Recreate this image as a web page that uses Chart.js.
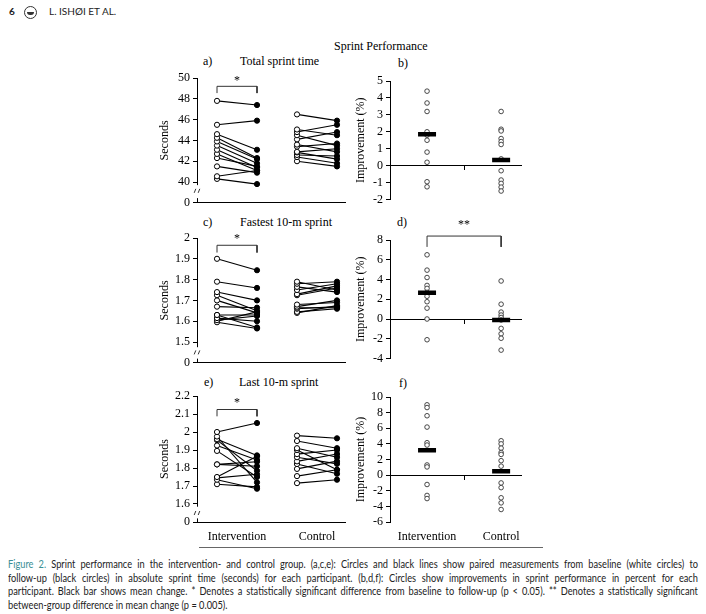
<!DOCTYPE html>
<html>
<head>
<meta charset="utf-8">
<script src="https://cdn.jsdelivr.net/npm/chart.js@4"></script>
<style>
  body { margin: 0; background: #fff; width: 706px; height: 614px; position: relative; overflow: hidden; }
  canvas { position: absolute; }
  .t { position: absolute; font-family: "Liberation Serif", serif; font-size: 12px; color: #000; white-space: nowrap; line-height: 14px; }
  .hdr { position: absolute; font-family: "Lato", sans-serif; font-size: 10px; color: #222; top: 5px; }
  .logo { position: absolute; left: 24px; top: 6px; width: 11px; height: 11px; border: 1px solid #333; border-radius: 50%; }
  .logo:after { content: ""; position: absolute; left: 2px; top: 5px; width: 7px; height: 3px; background: #333; border-radius: 0 0 4px 4px; }
  .rule { position: absolute; left: 199px; top: 547px; width: 344px; height: 1px; background: #666; }
  .cap { position: absolute; left: 8px; top: 558px; width: 784px; transform: scaleX(0.88); transform-origin: 0 0;
         font-family: "Lato", sans-serif; font-size: 10.5px; line-height: 13.5px; color: #222; }
  .cap div { text-align: justify; text-align-last: justify; white-space: nowrap; }
  .cap div.last { text-align-last: left; }
  .cap b { font-weight: normal; color: #3a8f95; }
</style>
</head>
<body>
<div class="hdr" style="left:9px; font-weight:bold;">6</div>
<div class="logo"></div>
<div class="hdr" style="left:49px;">L. ISHØI ET AL.</div>

<div class="t" style="left:334px; top:39px;">Sprint Performance</div>
<div class="t" style="left:203px; top:54px;">a)</div>
<div class="t" style="left:240px; top:54px;">Total sprint time</div>
<div class="t" style="left:398px; top:56px;">b)</div>
<div class="t" style="left:203px; top:215px;">c)</div>
<div class="t" style="left:240px; top:215px;">Fastest 10-m sprint</div>
<div class="t" style="left:397px; top:215px;">d)</div>
<div class="t" style="left:204px; top:375px;">e)</div>
<div class="t" style="left:239px; top:375px;">Last 10-m sprint</div>
<div class="t" style="left:399px; top:376px;">f)</div>

<canvas id="chartA" width="200" height="155" style="left:150px; top:58px;"></canvas>
<canvas id="chartB" width="185" height="152" style="left:350px; top:61px;"></canvas>
<canvas id="chartC" width="200" height="155" style="left:150px; top:218px;"></canvas>
<canvas id="chartD" width="185" height="152" style="left:350px; top:220px;"></canvas>
<canvas id="chartE" width="200" height="170" style="left:150px; top:376px;"></canvas>
<canvas id="chartF" width="185" height="169" style="left:350px; top:377px;"></canvas>

<div class="rule"></div>
<div class="cap">
  <div><b>Figure 2.</b> Sprint performance in the intervention- and control group. (a,c,e): Circles and black lines show paired measurements from baseline (white circles) to</div>
  <div>follow-up (black circles) in absolute sprint time (seconds) for each participant. (b,d,f): Circles show improvements in sprint performance in percent for each</div>
  <div>participant. Black bar shows mean change. * Denotes a statistically significant difference from baseline to follow-up (p &lt; 0.05). ** Denotes a statistically significant</div>
  <div class="last">between-group difference in mean change (p = 0.005).</div>
</div>

<script>
// group names on the x axis
const groups = ["Intervention", "Control"];

// a) total sprint time (s), baseline -> follow-up
const aIntBase = [47.8, 45.5, 44.6, 44.25, 43.9, 43.5, 43.1, 42.7, 42.3, 41.5, 40.55, 40.3];
const aIntFollow = [47.4, 45.9, 43.1, 42.3, 42.2, 41.8, 41.4, 41.1, 41.5, 40.9, 41.1, 39.8];
const aCtrlBase = [46.5, 45.05, 44.8, 44.5, 44.1, 43.6, 43.4, 42.9, 42.85, 42.6, 42.4, 42.0];
const aCtrlFollow = [45.9, 44.5, 45.5, 43.5, 44.8, 42.9, 43.7, 43.2, 42.2, 42.5, 41.8, 41.5];

// b) improvement (%)
const bInt = [4.4, 3.7, 3.2, 2.0, 1.8, 1.5, 0.8, 0.2, -0.95, -1.25];
const bCtrl = [3.2, 2.15, 2.05, 1.6, 1.42, 1.25, 0.4, -0.3, -0.85, -1.05, -1.27, -1.5];
const bMean = [1.85, 0.33];

// c) fastest 10-m sprint (s)
const cIntBase = [1.90, 1.79, 1.74, 1.725, 1.70, 1.67, 1.63, 1.63, 1.615, 1.605, 1.595, 1.60];
const cIntFollow = [1.845, 1.76, 1.70, 1.65, 1.64, 1.665, 1.63, 1.57, 1.60, 1.625, 1.565, 1.645];
const cCtrlBase = [1.79, 1.78, 1.765, 1.75, 1.73, 1.725, 1.68, 1.67, 1.665, 1.66, 1.645, 1.64];
const cCtrlFollow = [1.75, 1.79, 1.74, 1.78, 1.77, 1.76, 1.69, 1.70, 1.665, 1.67, 1.66, 1.675];

// d) improvement (%)
const dInt = [6.5, 4.95, 4.2, 3.4, 3.1, 2.7, 2.3, 1.75, 1.1, 0, -2.1];
const dCtrl = [3.85, 1.5, 0.7, 0.4, 0.15, -0.1, -0.95, -1.5, -1.95, -3.15];
const dMean = [2.67, -0.1];

// e) last 10-m sprint (s)
const eIntBase = [2.0, 1.975, 1.96, 1.955, 1.925, 1.895, 1.82, 1.82, 1.75, 1.735, 1.71, 1.745];
const eIntFollow = [2.05, 1.72, 1.87, 1.785, 1.845, 1.75, 1.835, 1.81, 1.865, 1.685, 1.695, 1.765];
const eCtrlBase = [1.98, 1.95, 1.91, 1.90, 1.877, 1.86, 1.837, 1.822, 1.795, 1.755, 1.716];
const eCtrlFollow = [1.965, 1.91, 1.86, 1.79, 1.90, 1.823, 1.878, 1.768, 1.838, 1.79, 1.735];

// f) improvement (%)
const fInt = [9.0, 8.65, 7.6, 6.15, 4.15, 3.85, 1.3, 1.05, -1.2, -2.6, -3.0];
const fCtrl = [4.4, 4.0, 3.45, 2.9, 2.65, 1.85, 1.15, -1.0, -1.6, -2.9, -3.55, -4.4];
const fMean = [3.2, 0.5];

Chart.defaults.font.family = '"Liberation Serif", serif';
Chart.defaults.font.size = 12;
Chart.defaults.color = "#000";

// stars + broken y axis
const marks = {
    id: "marks",
    afterDraw(chart, args, opts) {
        const ctx = chart.ctx;
        const x = chart.scales.x, y = chart.scales.y;
        ctx.save();
        if (opts.brk) {
            const ax = y.right;
            const top = y.getPixelForValue(opts.brk[1]);
            const bot = y.getPixelForValue(opts.brk[0]);
            ctx.fillStyle = "#fff";
            ctx.fillRect(ax - 2, top, 4, bot - top);
            const m = y.getPixelForValue(opts.brk[2]);
            ctx.strokeStyle = "#000";
            ctx.lineWidth = 0.8;
            [-2, 2].forEach(dx => {
                ctx.beginPath();
                ctx.moveTo(ax + dx + 0.8, m - 2);
                ctx.lineTo(ax + dx - 0.8, m + 2);
                ctx.stroke();
            });
        }
        if (opts.star) {
            ctx.fillStyle = "#000";
            ctx.font = '12px "Liberation Serif"';
            ctx.textAlign = "center";
            ctx.textBaseline = "middle";
            ctx.fillText(opts.star[2], x.getPixelForValue(opts.star[0]), y.getPixelForValue(opts.star[1]));
        }
        ctx.restore();
    }
};

function bracket(x1, x2, legs) {
    return {
        data: [{x: x1, y: legs[0]}, {x: x1, y: legs[1]}, {x: x2, y: legs[1]}, {x: x2, y: legs[0]}],
        showLine: true, borderColor: "#333", borderWidth: 1, pointRadius: 0, clip: false
    };
}

// left panels: paired lines baseline (white) -> follow-up (black)
function pairedChart(id, s) {
    const sets = [];
    const addPairs = (base, follow, x0) => {
        base.forEach((v, i) => {
            sets.push({
                data: [{x: x0, y: v}, {x: x0 + 1, y: follow[i]}],
                showLine: true,
                borderColor: "#000",
                borderWidth: 1.1,
                pointRadius: 2.6,
                pointBorderWidth: 1,
                pointBorderColor: "#000",
                pointBackgroundColor: ["#fff", "#000"]
            });
        });
    };
    addPairs(s.intBase, s.intFollow, 1);
    addPairs(s.ctrlBase, s.ctrlFollow, 3);
    sets.push(bracket(1, 2, s.bracket));

    new Chart(document.getElementById(id), {
        type: "scatter",
        data: {datasets: sets},
        plugins: [marks],
        options: {
            animation: false,
            responsive: false,
            events: [],
            layout: {padding: {left: 4, right: 5, top: 20, bottom: 0}},
            plugins: {legend: {display: false}, tooltip: {enabled: false},
                marks: {brk: s.brk, star: [1.5, s.starY, "*"]}},
            scales: {
                x: {
                    type: "linear", min: 0.5, max: 4.2,
                    border: {color: "#000"},
                    grid: {drawOnChartArea: false, drawTicks: false},
                    ticks: {display: s.labels, padding: 8, callback: (v) => v < 2 ? groups[0] : groups[1]},
                    afterBuildTicks: sc => { sc.ticks = s.labels ? [{value: 1.5}, {value: 3.5}] : []; },
                    afterFit: sc => { sc.height = s.labels ? 24 : 8; }
                },
                y: {
                    min: s.min, max: s.max,
                    border: {color: "#000"},
                    grid: {drawOnChartArea: false, tickLength: 4, color: "#000"},
                    ticks: {stepSize: s.step, padding: 3, autoSkip: false,
                        callback: v => Math.abs(v - s.min) < 1e-6 ? "0" : String(Math.round(v * 100) / 100)},
                    title: {display: true, text: "Seconds"},
                    afterFit: sc => { sc.width = 43; }
                }
            }
        }
    });
}

// right panels: individual improvement with mean bar
function improveChart(id, s) {
    const dot = {pointRadius: 2.3, pointBorderWidth: 0.9, pointBorderColor: "#333", pointBackgroundColor: "#fff"};
    const sets = [
        Object.assign({data: s.int.map(v => ({x: 1, y: v}))}, dot),
        Object.assign({data: s.ctrl.map(v => ({x: 3, y: v}))}, dot),
        // mean bar on top of the dots
        {data: [{x: 1, y: s.mean[0]}, {x: 3, y: s.mean[1]}], pointStyle: "line", order: -1,
            pointRadius: 9, pointBorderWidth: 4.5, pointBorderColor: "#000"}
    ];
    if (s.bracket) sets.push(bracket(1, 3, s.bracket));

    new Chart(document.getElementById(id), {
        type: "scatter",
        data: {datasets: sets},
        plugins: [marks],
        options: {
            animation: false,
            responsive: false,
            events: [],
            layout: {padding: {left: 0, right: 5, top: 20, bottom: 0}},
            plugins: {legend: {display: false}, tooltip: {enabled: false},
                marks: {star: s.starY ? [2, s.starY, "**"] : null}},
            scales: {
                x: {
                    type: "linear", min: 0, max: 3.55, position: {y: 0},
                    border: {color: "#000"},
                    grid: {drawOnChartArea: false, tickLength: 4, color: "#000"},
                    ticks: {display: false},
                    afterBuildTicks: sc => { sc.ticks = [{value: 2}]; }
                },
                x2: {
                    type: "linear", min: 0, max: 3.55, position: "bottom",
                    border: {display: false},
                    grid: {display: false, drawTicks: false},
                    ticks: {display: s.labels, padding: 8, callback: v => v < 2 ? groups[0] : groups[1]},
                    afterBuildTicks: sc => { sc.ticks = [{value: 1}, {value: 3}]; },
                    afterFit: sc => { sc.height = s.labels ? 24 : 8; }
                },
                y: {
                    min: s.min, max: s.max,
                    border: {color: "#000"},
                    grid: {drawOnChartArea: false, tickLength: 4, color: "#000"},
                    ticks: {stepSize: s.step, padding: 3, autoSkip: false},
                    title: {display: true, text: "Improvement (%)"},
                    afterFit: sc => { sc.width = 40; }
                }
            }
        }
    });
}

pairedChart("chartA", {intBase: aIntBase, intFollow: aIntFollow, ctrlBase: aCtrlBase, ctrlFollow: aCtrlFollow,
    min: 38, max: 50, step: 2, bracket: [48.55, 49.2], starY: 49.75, brk: [38.45, 39.7, 39.15], labels: false});
improveChart("chartB", {int: bInt, ctrl: bCtrl, mean: bMean, min: -2, max: 5, step: 1, labels: false});

pairedChart("chartC", {intBase: cIntBase, intFollow: cIntFollow, ctrlBase: cCtrlBase, ctrlFollow: cCtrlFollow,
    min: 1.4, max: 2.0, step: 0.1, bracket: [1.93, 1.965], starY: 1.995, brk: [1.42, 1.475, 1.45], labels: false});
improveChart("chartD", {int: dInt, ctrl: dCtrl, mean: dMean, min: -4, max: 8, step: 2,
    bracket: [7.3, 8.4], starY: 9.5, labels: false});

pairedChart("chartE", {intBase: eIntBase, intFollow: eIntFollow, ctrlBase: eCtrlBase, ctrlFollow: eCtrlFollow,
    min: 1.5, max: 2.2, step: 0.1, bracket: [2.087, 2.125], starY: 2.16, brk: [1.52, 1.585, 1.55], labels: true});
improveChart("chartF", {int: fInt, ctrl: fCtrl, mean: fMean, min: -6, max: 10, step: 2, labels: true});
</script>
</body>
</html>
